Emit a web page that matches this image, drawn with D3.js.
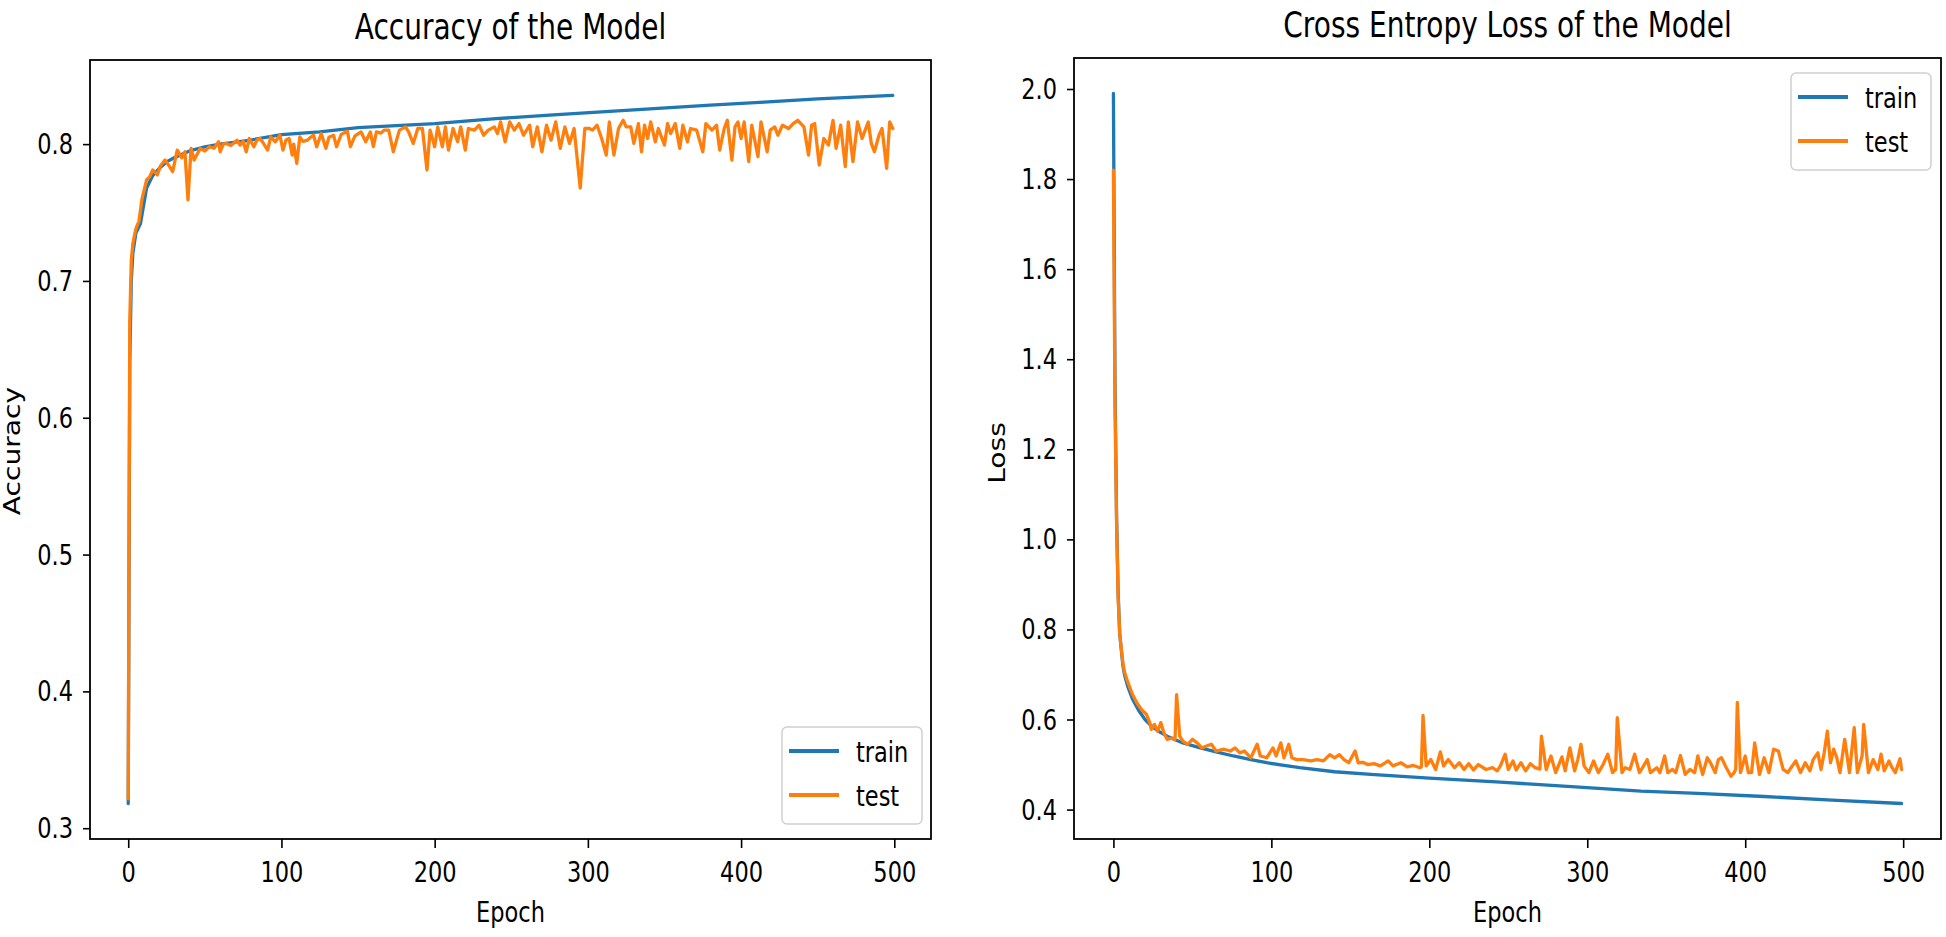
<!DOCTYPE html>
<html><head><meta charset="utf-8">
<script src="https://cdn.jsdelivr.net/npm/d3@7"></script>
<style>
body{margin:0;background:#fff;}
svg text{font-family:"DejaVu Sans",sans-serif;fill:#000;}
</style></head><body>
<svg id="chart" width="1946" height="937"></svg>
<script>
// ---------------- data ----------------
const seriesNames = ["train", "test"];
const xTicks = [0, 100, 200, 300, 400, 500];
const accTicks = [0.3, 0.4, 0.5, 0.6, 0.7, 0.8];
const lossTicks = [0.4, 0.6, 0.8, 1.0, 1.2, 1.4, 1.6, 1.8, 2.0];

const accTrainEpochs = [0,1,2,3,5,8,10,12,16,20,25,30,40,50,60,80,100,125,150,175,200,240,280,330,380,415,450,499];
const accTrain = [0.318,0.64,0.70,0.72,0.735,0.742,0.755,0.768,0.777,0.782,0.787,0.790,0.795,0.798,0.800,0.803,0.807,0.809,0.812,0.8135,0.815,0.8186,0.8215,0.825,0.8285,0.8307,0.833,0.8356];

const accTestEpochs = [0,1,2,3,4,5,6,7,9,12,14,16,19,21,24,27,29,32,35,37,39,41,43,47,50,53,56,59,60,62,64,67,71,73,75,77,79,82,84,86,88,91,93,96,99,101,103,105,107,108,110,112,114,117,119,121,123,126,129,131,134,136,139,143,145,148,152,155,158,160,162,165,167,170,173,177,181,183,186,189,192,195,197,200,202,205,207,209,212,215,217,220,222,226,229,232,235,239,241,243,246,249,252,255,258,262,264,267,270,273,276,279,282,285,288,291,295,298,301,303,306,309,312,314,317,320,323,325,328,330,333,335,337,339,341,344,346,348,350,352,354,357,360,362,365,367,371,375,377,381,384,386,389,391,394,396,398,400,402,405,407,411,413,417,419,422,424,427,431,434,437,441,444,446,448,451,454,457,460,462,465,468,470,473,476,479,481,483,485,487,490,492,495,497,499];
const accTest = [0.3215,0.67,0.715,0.727,0.733,0.738,0.741,0.7436,0.76,0.7739,0.776,0.7811,0.7775,0.784,0.7884,0.7835,0.7799,0.7956,0.790,0.7944,0.7593,0.7969,0.7884,0.7969,0.795,0.7981,0.797,0.8017,0.7944,0.800,0.8005,0.799,0.8029,0.7993,0.802,0.7944,0.8041,0.7981,0.803,0.8041,0.801,0.7956,0.8053,0.8017,0.8065,0.7956,0.803,0.8041,0.7920,0.800,0.7860,0.8053,0.802,0.8029,0.805,0.8065,0.7981,0.8077,0.7969,0.805,0.8065,0.7981,0.807,0.8094,0.7981,0.806,0.8089,0.8017,0.8089,0.7981,0.8089,0.808,0.8102,0.8102,0.7944,0.8102,0.8126,0.8089,0.8005,0.8114,0.8114,0.7811,0.8102,0.7981,0.8126,0.7981,0.8126,0.7956,0.8114,0.8017,0.8126,0.7956,0.8114,0.8102,0.8138,0.8065,0.8102,0.8126,0.8077,0.8162,0.8017,0.8162,0.8102,0.8150,0.8065,0.8138,0.7981,0.8126,0.7944,0.8138,0.8029,0.8162,0.7969,0.8126,0.8005,0.8114,0.7678,0.8114,0.8114,0.8102,0.8138,0.8041,0.7920,0.8162,0.7920,0.8114,0.8174,0.8126,0.8126,0.8005,0.8150,0.7944,0.8138,0.8041,0.8162,0.8017,0.8114,0.8053,0.7993,0.8150,0.8077,0.8150,0.7969,0.8138,0.8017,0.8114,0.8102,0.7944,0.8150,0.8102,0.8138,0.7956,0.8114,0.8174,0.7884,0.8126,0.8162,0.8041,0.8162,0.7872,0.8138,0.7908,0.8162,0.7944,0.8102,0.8126,0.8065,0.8138,0.8114,0.8150,0.8174,0.8126,0.7920,0.8138,0.8150,0.7847,0.8041,0.7993,0.8174,0.7969,0.8138,0.7835,0.8162,0.7872,0.8162,0.8041,0.8102,0.8162,0.8005,0.7944,0.8065,0.8114,0.7823,0.8162,0.8114];

const lossTrainEpochs = [0,1,2,3,4,5,6,7,9,12,16,20,23,28,34,44,55,65,76,87,97,108,118,140,163,200,245,290,334,370,412,455,499];
const lossTrain = [1.99,1.35,1.05,0.88,0.79,0.755,0.72,0.70,0.674,0.646,0.62,0.60,0.589,0.575,0.563,0.548,0.537,0.528,0.519,0.511,0.504,0.498,0.493,0.484,0.478,0.470,0.461,0.451,0.441,0.436,0.429,0.421,0.4135];

const lossTestEpochs = [0,1,2,3,4,5,6,7,9,12,15,18,21,23,24,26,28,30,32,34,37,39,40,42,44,47,50,53,56,59,62,65,70,74,77,80,83,87,91,93,97,101,103,106,108,111,113,116,120,125,129,133,137,140,143,146,149,153,155,158,161,165,169,174,177,182,186,190,194,195,196,198,201,204,207,209,212,216,219,222,225,228,231,236,240,243,245,248,250,253,255,258,261,264,267,270,271,274,277,280,284,286,289,292,294,296,298,301,304,307,310,313,316,318,319,322,324,327,330,333,335,338,340,344,346,349,351,354,356,359,362,365,368,370,373,376,378,381,383,385,388,391,393,394,395,397,400,402,404,406,409,412,415,418,421,424,427,429,432,435,438,441,443,446,448,450,452,454,456,458,460,463,466,469,471,474,475,478,481,484,486,488,491,493,495,498,499];
const lossTest = [1.82,1.30,1.04,0.87,0.79,0.757,0.726,0.706,0.684,0.656,0.636,0.621,0.611,0.593,0.578,0.589,0.574,0.593,0.570,0.556,0.559,0.555,0.655,0.563,0.552,0.545,0.556,0.548,0.537,0.541,0.545,0.530,0.534,0.530,0.537,0.526,0.530,0.515,0.545,0.519,0.515,0.537,0.519,0.548,0.515,0.545,0.515,0.511,0.511,0.508,0.511,0.508,0.522,0.515,0.522,0.511,0.504,0.530,0.504,0.505,0.500,0.502,0.497,0.508,0.497,0.504,0.495,0.498,0.493,0.495,0.609,0.497,0.511,0.489,0.528,0.497,0.511,0.493,0.504,0.489,0.502,0.488,0.500,0.489,0.493,0.486,0.497,0.523,0.489,0.508,0.488,0.504,0.486,0.502,0.493,0.490,0.563,0.489,0.519,0.482,0.517,0.486,0.537,0.486,0.511,0.545,0.497,0.482,0.508,0.482,0.500,0.523,0.482,0.490,0.604,0.482,0.493,0.489,0.523,0.482,0.493,0.511,0.482,0.493,0.482,0.519,0.482,0.489,0.482,0.520,0.478,0.489,0.482,0.519,0.478,0.515,0.504,0.482,0.511,0.515,0.493,0.474,0.482,0.490,0.638,0.482,0.519,0.482,0.482,0.548,0.478,0.515,0.482,0.534,0.530,0.489,0.482,0.493,0.508,0.482,0.504,0.486,0.511,0.526,0.489,0.526,0.574,0.504,0.534,0.515,0.482,0.556,0.482,0.582,0.482,0.519,0.589,0.482,0.511,0.489,0.523,0.486,0.508,0.493,0.482,0.513,0.489];

// ---------------- styling / layout ----------------
const colors = {train: "#1f77b4", test: "#ff7f0e"};
const K = 1.25;            // vertical stretch of the reference's text
const FS = 22.5;           // tick / label font size
const svg = d3.select("#chart");

const panels = [
  {left: 90, right: 931, top: 60, bottom: 839, title: "Accuracy of the Model", titleY: 39,
   ylabel: "Accuracy", ylabelX: 20, ylabelY: 451, yticks: accTicks,
   data: {train: [accTrainEpochs, accTrain], test: [accTestEpochs, accTest]},
   legend: {x: 782, y: 727}},
  {left: 1074, right: 1941, top: 58, bottom: 839, title: "Cross Entropy Loss of the Model", titleY: 37,
   ylabel: "Loss", ylabelX: 1005, ylabelY: 453, yticks: lossTicks,
   data: {train: [lossTrainEpochs, lossTrain], test: [lossTestEpochs, lossTest]},
   legend: {x: 1791, y: 73}}
];

function stretchedText(g, x, y, str, size, anchor) {
  return g.append("text")
    .attr("transform", `translate(${x},${y}) scale(1,${K})`)
    .attr("text-anchor", anchor || "middle")
    .style("font-size", size + "px")
    .text(str);
}

panels.forEach(p => {
  const allE = [...p.data.train[0], ...p.data.test[0]];
  const allV = [...p.data.train[1], ...p.data.test[1]];
  const [e0, e1] = d3.extent(allE);
  const [v0, v1] = d3.extent(allV);
  const em = (e1 - e0) * 0.05, vm = (v1 - v0) * 0.05;
  const x = d3.scaleLinear().domain([e0 - em, e1 + em]).range([p.left, p.right]);
  const y = d3.scaleLinear().domain([v0 - vm, v1 + vm]).range([p.bottom, p.top]);

  const g = svg.append("g");

  // lines
  seriesNames.forEach(name => {
    const [es, vs] = p.data[name];
    const pts = d3.zip(es, vs);
    g.append("path")
      .datum(pts)
      .attr("fill", "none")
      .attr("stroke", colors[name])
      .attr("stroke-width", 3.3)
      .attr("stroke-linejoin", "round")
      .attr("stroke-linecap", "round")
      .attr("d", d3.line().x(d => x(d[0])).y(d => y(d[1])));
  });

  // frame
  g.append("rect")
    .attr("x", p.left).attr("y", p.top)
    .attr("width", p.right - p.left).attr("height", p.bottom - p.top)
    .attr("fill", "none").attr("stroke", "#000").attr("stroke-width", 1.8);

  // x axis
  const xa = g.append("g").attr("transform", `translate(0,${p.bottom})`)
    .call(d3.axisBottom(x).tickValues(xTicks).tickSize(9).tickSizeOuter(0).tickFormat(d3.format("d")));
  xa.select(".domain").remove();
  xa.selectAll(".tick line").attr("stroke", "#000").attr("stroke-width", 1.6);
  xa.selectAll(".tick text")
    .attr("y", null).attr("dy", null).attr("fill", "#000")
    .attr("transform", `translate(0,43) scale(1,${K})`)
    .style("font-size", FS + "px").style("font-family", '"DejaVu Sans", sans-serif');

  // y axis
  const ya = g.append("g").attr("transform", `translate(${p.left},0)`)
    .call(d3.axisLeft(y).tickValues(p.yticks).tickSize(7).tickSizeOuter(0).tickFormat(d3.format(".1f")));
  ya.select(".domain").remove();
  ya.selectAll(".tick line").attr("stroke", "#000").attr("stroke-width", 1.6);
  ya.selectAll(".tick text")
    .attr("x", null).attr("dy", null).attr("fill", "#000")
    .attr("transform", `translate(-17,9.5) scale(1,${K})`)
    .style("font-size", FS + "px").style("font-family", '"DejaVu Sans", sans-serif');

  // title
  stretchedText(svg, (p.left + p.right) / 2, p.titleY, p.title, 28);
  // x label
  stretchedText(svg, (p.left + p.right) / 2, 922, "Epoch", FS);
  // y label (rotated, stretched along its length)
  svg.append("text")
    .attr("transform", `translate(${p.ylabelX},${p.ylabelY}) rotate(-90) scale(${K},1)`)
    .attr("text-anchor", "middle")
    .style("font-size", FS + "px")
    .text(p.ylabel);

  // legend
  const lg = svg.append("g").attr("transform", `translate(${p.legend.x},${p.legend.y})`);
  lg.append("rect").attr("x", 0).attr("y", 0).attr("width", 140).attr("height", 97)
    .attr("rx", 5).attr("ry", 5)
    .attr("fill", "#fff").attr("fill-opacity", 0.8)
    .attr("stroke", "#d0d0d0").attr("stroke-width", 1.5);
  seriesNames.forEach((name, i) => {
    const ly = 24 + i * 44;
    lg.append("line").attr("x1", 7).attr("x2", 57).attr("y1", ly).attr("y2", ly)
      .attr("stroke", colors[name]).attr("stroke-width", 3.8);
    stretchedText(lg, 74, ly + 11, name, FS, "start");
  });
});
</script>
</body></html>
